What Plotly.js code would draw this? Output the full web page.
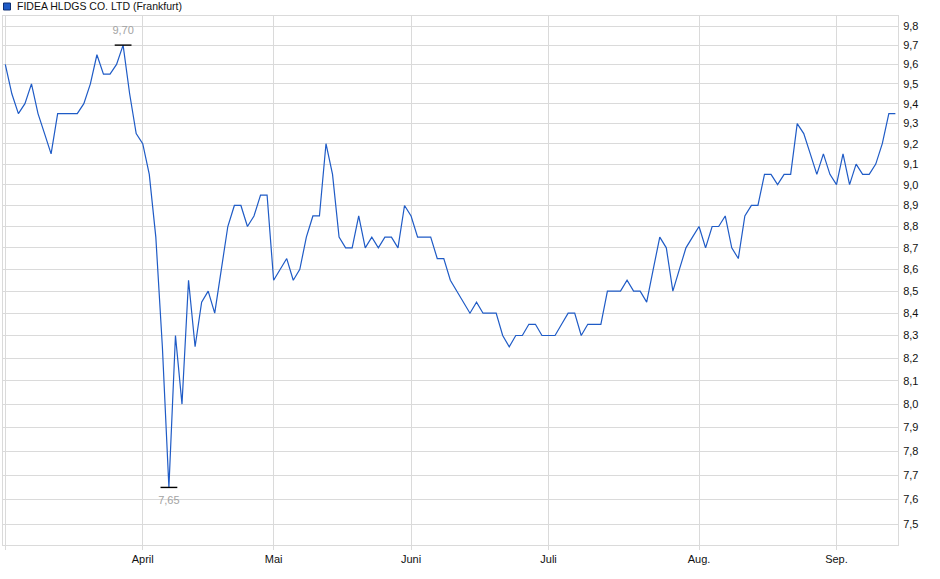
<!DOCTYPE html>
<html>
<head>
<meta charset="utf-8">
<script src="https://cdn.plot.ly/plotly-3.0.1.min.js"></script>
<style>
  html, body { margin: 0; padding: 0; background: #fff; }
  #chart { width: 940px; height: 579px; }
</style>
</head>
<body>
<div id="chart"></div>
<script>
// daily closing prices (trading days, March - September)
const prices = [
  9.6, 9.45, 9.35, 9.4, 9.5, 9.35, 9.25, 9.15, 9.35, 9.35,
  9.35, 9.35, 9.4, 9.5, 9.65, 9.55, 9.55, 9.6, 9.7, 9.45,
  9.25, 9.2, 9.05, 8.75, 8.25, 7.65, 8.3, 8.0, 8.55, 8.25,
  8.45, 8.5, 8.4, 8.6, 8.8, 8.9, 8.9, 8.8, 8.85, 8.95,
  8.95, 8.55, 8.6, 8.65, 8.55, 8.6, 8.75, 8.85, 8.85, 9.2,
  9.05, 8.75, 8.7, 8.7, 8.85, 8.7, 8.75, 8.7, 8.75, 8.75,
  8.7, 8.9, 8.85, 8.75, 8.75, 8.75, 8.65, 8.65, 8.55, 8.5,
  8.45, 8.4, 8.45, 8.4, 8.4, 8.4, 8.3, 8.25, 8.3, 8.3,
  8.35, 8.35, 8.3, 8.3, 8.3, 8.35, 8.4, 8.4, 8.3, 8.35,
  8.35, 8.35, 8.5, 8.5, 8.5, 8.55, 8.5, 8.5, 8.45, 8.6,
  8.75, 8.7, 8.5, 8.6, 8.7, 8.75, 8.8, 8.7, 8.8, 8.8,
  8.85, 8.7, 8.65, 8.85, 8.9, 8.9, 9.05, 9.05, 9.0, 9.05,
  9.05, 9.3, 9.25, 9.15, 9.05, 9.15, 9.05, 9.0, 9.15, 9.0,
  9.1, 9.05, 9.05, 9.1, 9.2, 9.35, 9.35
]

// first trading day of each month (index into prices) and labels
const monthIdx = [0, 21, 41, 62, 83, 106, 127]
const monthLabels = ['', 'April', 'Mai', 'Juni', 'Juli', 'Aug.', 'Sep.']

const yTicks = [7.5, 7.6, 7.7, 7.8, 7.9, 8.0, 8.1, 8.2, 8.3, 8.4, 8.5, 8.6, 8.7, 8.8, 8.9, 9.0, 9.1, 9.2, 9.3, 9.4, 9.5, 9.6, 9.7, 9.8]

const seriesName = 'FIDEA HLDGS CO. LTD (Frankfurt)'

const days = prices.map((_, i) => i)
const fmt = (v, d) => v.toFixed(d).replace('.', ',')

let maxI = 0
let minI = 0
for (let i = 0; i < prices.length; i++) {
  if (prices[i] > prices[maxI]) maxI = i
  if (prices[i] < prices[minI]) minI = i
}

const gridColor = '#dadada'
const lineBlue = '#1f5bc6'

const data = [
  {
    x: days,
    y: prices,
    type: 'scatter',
    mode: 'lines',
    line: { color: lineBlue, width: 1.2 },
    showlegend: false
  },
  {
    x: [maxI, minI],
    y: [prices[maxI], prices[minI]],
    type: 'scatter',
    mode: 'markers+text',
    marker: { symbol: 'line-ew', size: 12, line: { color: '#000', width: 1.4 } },
    text: [fmt(prices[maxI], 2), fmt(prices[minI], 2)],
    textposition: ['top center', 'bottom center'],
    textfont: { family: 'Liberation Sans, Arial, sans-serif', size: 11, color: '#a3a3a3' },
    showlegend: false
  }
]

const layout = {
  width: 940,
  height: 579,
  margin: { l: 3, r: 42, t: 16, b: 34 },
  paper_bgcolor: '#fff',
  plot_bgcolor: '#fff',
  font: { family: 'Liberation Sans, Arial, sans-serif', size: 11, color: '#111' },
  hovermode: false,
  xaxis: {
    range: [-0.35, 136.4],
    tickvals: monthIdx,
    ticktext: monthLabels,
    showgrid: true,
    gridcolor: gridColor,
    zeroline: false,
    showline: true,
    mirror: true,
    linecolor: gridColor,
    ticks: 'outside',
    ticklen: 4,
    tickcolor: gridColor,
    tickfont: { size: 11, color: '#111' }
  },
  yaxis: {
    type: 'log',
    side: 'right',
    range: [0.87024, 0.99356],
    tickvals: yTicks,
    ticktext: yTicks.map(v => fmt(v, 1)),
    showgrid: true,
    gridcolor: gridColor,
    zeroline: false,
    showline: true,
    mirror: true,
    linecolor: gridColor,
    ticks: '',
    ticklabelstandoff: 2,
    tickfont: { size: 11, color: '#111' }
  },
  shapes: [
    {
      type: 'rect',
      xref: 'paper',
      yref: 'paper',
      xsizemode: 'pixel',
      ysizemode: 'pixel',
      xanchor: 0,
      yanchor: 1,
      x0: 0.5,
      x1: 7.5,
      y0: 6,
      y1: 13,
      fillcolor: lineBlue,
      line: { color: '#0d2f75', width: 1 }
    }
  ],
  annotations: [
    {
      text: seriesName,
      xref: 'paper',
      yref: 'paper',
      x: 0,
      y: 1,
      xanchor: 'left',
      yanchor: 'middle',
      xshift: 12,
      yshift: 10,
      showarrow: false,
      font: { size: 10.5, color: '#111' }
    }
  ]
}

Plotly.newPlot('chart', data, layout, { staticPlot: true, displayModeBar: false })
</script>
</body>
</html>
